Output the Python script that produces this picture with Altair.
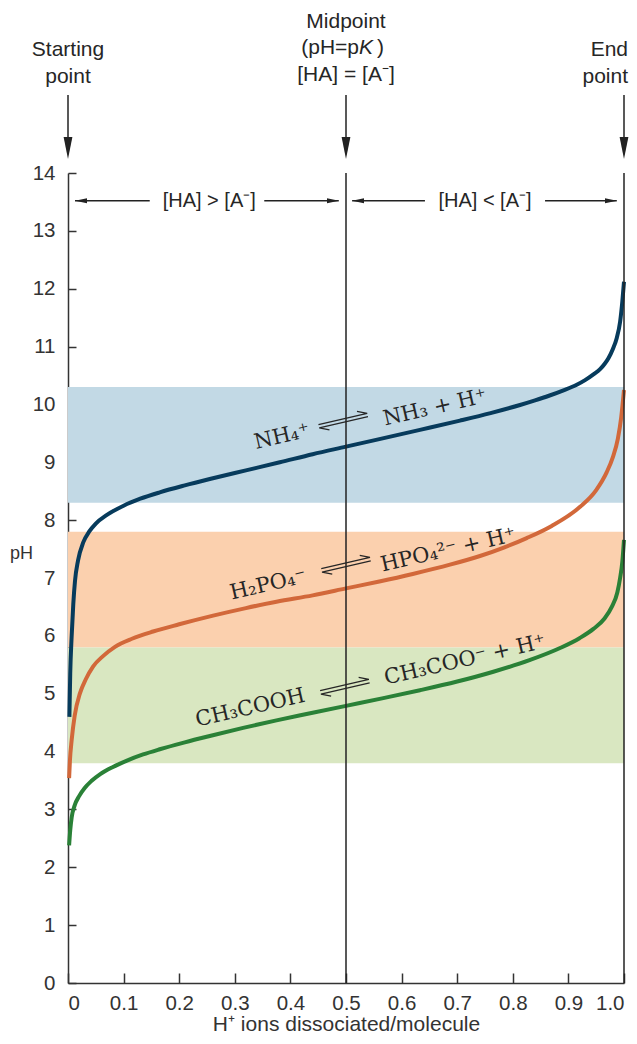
import altair as alt
import pandas as pd

# ---------------- data ----------------
nh4_x = [0.0025, 0.004, 0.0066, 0.0095, 0.0126, 0.018, 0.0276, 0.038, 0.05, 0.07, 0.1, 0.13, 0.165,
         0.21, 0.255, 0.32, 0.381, 0.44, 0.5, 0.56, 0.633, 0.705, 0.76, 0.813, 0.84, 0.865, 0.89,
         0.915, 0.93, 0.945, 0.957, 0.965, 0.972, 0.98, 0.987, 0.993, 0.997, 1.0]
nh4_ph = [4.6, 5.35, 6.0, 6.55, 6.95, 7.3, 7.62, 7.8, 7.94, 8.09, 8.25, 8.37, 8.48,
          8.6, 8.71, 8.86, 9.0, 9.14, 9.27, 9.4, 9.56, 9.72, 9.85, 9.99, 10.07, 10.15, 10.24,
          10.34, 10.42, 10.52, 10.61, 10.7, 10.8, 10.96, 11.15, 11.43, 11.78, 12.12]

h2po4_x = [0.002, 0.0035, 0.0066, 0.012, 0.0216, 0.032, 0.045, 0.063, 0.0845, 0.115, 0.153, 0.2,
           0.261, 0.32, 0.375, 0.44, 0.5, 0.56, 0.62, 0.687, 0.741, 0.785, 0.825, 0.87, 0.921,
           0.95, 0.969, 0.98, 0.989, 0.995, 1.0]
h2po4_ph = [3.54, 3.85, 4.2, 4.62, 5.01, 5.25, 5.47, 5.65, 5.81, 5.95, 6.075, 6.2,
            6.35, 6.48, 6.59, 6.7, 6.82, 6.94, 7.07, 7.23, 7.38, 7.53, 7.69, 7.9, 8.23,
            8.52, 8.83, 9.09, 9.41, 9.78, 10.25]

ac_x = [0.002, 0.004, 0.0066, 0.012, 0.02, 0.03, 0.042, 0.058, 0.08, 0.105, 0.135, 0.165, 0.21,
        0.255, 0.315, 0.375, 0.44, 0.5, 0.565, 0.633, 0.7, 0.765, 0.83, 0.885, 0.92, 0.945,
        0.965, 0.978, 0.988, 0.993, 0.997, 1.0]
ac_ph = [2.38, 2.64, 2.86, 3.07, 3.23, 3.37, 3.49, 3.61, 3.73, 3.84, 3.95, 4.04, 4.16,
         4.27, 4.41, 4.54, 4.67, 4.79, 4.92, 5.06, 5.21, 5.38, 5.58, 5.79, 5.96, 6.12,
         6.3, 6.5, 6.75, 7.0, 7.28, 7.66]

curve_names = ["NH4", "H2PO4", "CH3COOH"]
curve_colors = ["#073b5c", "#d2683a", "#2a8137"]

band_low = [8.3, 5.8, 3.8]
band_high = [10.3, 7.8, 5.8]
band_colors = ["#c2d9e5", "#fbd0ae", "#d9e7c1"]

x_ticks = [0, 0.1, 0.2, 0.3, 0.4, 0.5, 0.6, 0.7, 0.8, 0.9, 1.0]
y_ticks = list(range(0, 15))

# reference lines (midpoint, end point)
vline_x = [0.5, 1.0]

# top arrows
arrow_x = [0.0, 0.5, 1.0]
arrow_top = 15.35
arrow_head_y = 14.43

top_text = ["Starting", "point", "Midpoint", "[HA] = [A\u207b]"]
top_x = [0.0, 0.0, 0.5, 0.5]
top_y = [16.12, 15.66, 16.61, 15.69]
pk_y = 16.16
end_text = ["End", "point"]
end_y = [16.12, 15.66]

# horizontal double-arrows
harrow_y = 13.52
hseg_x1 = [0.0126, 0.353, 0.511, 0.858]
hseg_x2 = [0.147, 0.487, 0.642, 0.987]
hhead_x = [0.0234, 0.4766, 0.5216, 0.9766]
hhead_dir = ["left", "right", "left", "right"]
hlabel_text = ["[HA] > [A\u207b]", "[HA] < [A\u207b]"]
hlabel_x = [0.254, 0.75]

# equilibrium labels
eq_text = ["NH\u2084\u207a", "NH\u2083 + H\u207a",
           "H\u2082PO\u2084\u207b", "HPO\u2084\u00b2\u207b + H\u207a",
           "CH\u2083COOH", "CH\u2083COO\u207b + H\u207a"]
eq_x = [0.385, 0.66, 0.36, 0.684, 0.328, 0.714]
eq_y = [9.44, 9.94, 6.88, 7.48, 4.75, 5.58]
eqarrow_x = [0.495, 0.5, 0.498]
eqarrow_y = [9.72, 7.23, 5.12]

# ---------------- tables ----------------
curves = pd.concat([
    pd.DataFrame({"x": nh4_x, "ph": nh4_ph, "acid": "NH4"}),
    pd.DataFrame({"x": h2po4_x, "ph": h2po4_ph, "acid": "H2PO4"}),
    pd.DataFrame({"x": ac_x, "ph": ac_ph, "acid": "CH3COOH"}),
], ignore_index=True)

bands = pd.DataFrame({"acid": curve_names, "lo": band_low, "hi": band_high,
                      "x1": [0.0] * 3, "x2": [1.0] * 3, "col": band_colors})
vlines = pd.DataFrame({"x": vline_x, "y1": [0] * 2, "y2": [14] * 2})
arrows = pd.DataFrame({"x": arrow_x, "y1": [arrow_head_y] * 3, "y2": [arrow_top] * 3})
heads = pd.DataFrame({"x": arrow_x, "y": [arrow_head_y] * 3})
toplab = pd.DataFrame({"t": top_text, "x": top_x, "y": top_y})
endlab = pd.DataFrame({"t": end_text, "x": [1.0] * 2, "y": end_y})
hsegs = pd.DataFrame({"x1": hseg_x1, "x2": hseg_x2, "y": [harrow_y] * 4})
hheads = pd.DataFrame({"x": hhead_x, "y": [harrow_y] * 4, "d": hhead_dir})
hlabels = pd.DataFrame({"t": hlabel_text, "x": hlabel_x, "y": [harrow_y] * 2})
eqs = pd.DataFrame({"t": eq_text, "x": eq_x, "y": eq_y})
eqarrows = pd.DataFrame({"x": eqarrow_x, "y": eqarrow_y})

W, H = 556, 810
SANS = "Liberation Sans, Arial, sans-serif"
SERIF = "DejaVu Serif, serif"
INK = "#262626"

xs = alt.Scale(domain=[0, 1], nice=False)
ys = alt.Scale(domain=[0, 14], nice=False)

x_axis_main = alt.Axis(values=x_ticks, labelExpr="datum.value == 0 ? '0' : format(datum.value, '.1f')",
                       orient="bottom", ticks=False, tickSize=0, labelPadding=10, grid=False,
                       domainColor="#333", domainWidth=1.5, labelFont=SANS, labelFontSize=20.5,
                       labelColor="#333", title="H\u207a ions dissociated/molecule",
                       titleFont=SANS, titleFontSize=21, titleFontWeight="normal", titleColor="#333",
                       titleX=W / 2, titleY=41, titleBaseline="middle", titleAlign="center")
y_axis_main = alt.Axis(values=y_ticks, orient="left", ticks=False, tickSize=0, labelPadding=13,
                       grid=False, domainColor="#333", domainWidth=1.5, labelFont=SANS,
                       labelFontSize=20.5, labelColor="#333", title="pH", titleAngle=0,
                       titleFont=SANS, titleFontSize=18, titleFontWeight="normal", titleColor="#333",
                       titleX=-47, titleY=380, titleAlign="center", titleBaseline="middle")
x_axis_ticks = alt.Axis(values=x_ticks, orient="top", offset=-H, labels=False, domain=False,
                        ticks=True, tickSize=10, tickWidth=1.5, tickColor="#333", grid=False, title=None)
y_axis_ticks = alt.Axis(values=y_ticks, orient="right", offset=-W, labels=False, domain=False,
                        ticks=True, tickSize=8, tickWidth=1.5, tickColor="#333", grid=False, title=None)

band_layer = alt.Chart(bands).mark_rect().encode(
    x=alt.X("x1:Q", scale=xs, axis=x_axis_main),
    x2="x2:Q",
    y=alt.Y("lo:Q", scale=ys, axis=y_axis_main),
    y2="hi:Q",
    color=alt.Color("col:N", scale=None, legend=None),
)

curve_layer = alt.Chart(curves).mark_line(strokeWidth=4, interpolate="monotone", strokeCap="butt").encode(
    x=alt.X("x:Q", scale=xs, axis=x_axis_ticks),
    y=alt.Y("ph:Q", scale=ys, axis=y_axis_ticks),
    color=alt.Color("acid:N", scale=alt.Scale(domain=curve_names, range=curve_colors), legend=None),
    detail="acid:N",
)

vline_layer = alt.Chart(vlines).mark_rule(color="#222", strokeWidth=1.5).encode(
    x=alt.X("x:Q", scale=xs, axis=None),
    y=alt.Y("y1:Q", scale=ys, axis=None), y2="y2:Q",
)

arrow_layer = alt.Chart(arrows).mark_rule(color="#222", strokeWidth=1.5).encode(
    x=alt.X("x:Q", scale=xs, axis=None),
    y=alt.Y("y1:Q", scale=ys, axis=None), y2="y2:Q",
)

head_layer = alt.Chart(heads).mark_point(
    shape="M-0.4,-1L0.4,-1L0,1Z", filled=True, size=484, color="#222", opacity=1, strokeWidth=0
).encode(
    x=alt.X("x:Q", scale=xs, axis=None),
    y=alt.Y("y:Q", scale=ys, axis=None),
)

top_label_layer = alt.Chart(toplab).mark_text(
    font=SANS, fontSize=21, color=INK, align="center", baseline="middle"
).encode(
    x=alt.X("x:Q", scale=xs, axis=None),
    y=alt.Y("y:Q", scale=ys, axis=None),
    text="t:N",
)

# "End point" sits at the right edge: right-aligned so it stays inside the page
end_label_layer = alt.Chart(endlab).mark_text(
    font=SANS, fontSize=21, color=INK, align="right", baseline="middle", dx=4
).encode(
    x=alt.X("x:Q", scale=xs, axis=None),
    y=alt.Y("y:Q", scale=ys, axis=None),
    text="t:N",
)

pk_df = pd.DataFrame({"x": [0.5], "y": [pk_y]})
pk1 = alt.Chart(pk_df).mark_text(font=SANS, fontSize=21, color=INK, align="right",
                                 baseline="middle", dx=13, text="(pH=p").encode(
    x=alt.X("x:Q", scale=xs, axis=None), y=alt.Y("y:Q", scale=ys, axis=None))
pk2 = alt.Chart(pk_df).mark_text(font=SANS, fontSize=21, fontStyle="italic", color=INK,
                                 align="left", baseline="middle", dx=13, text="K").encode(
    x=alt.X("x:Q", scale=xs, axis=None), y=alt.Y("y:Q", scale=ys, axis=None))
pk3 = alt.Chart(pk_df).mark_text(font=SANS, fontSize=21, color=INK, align="left",
                                 baseline="middle", dx=31, text=")").encode(
    x=alt.X("x:Q", scale=xs, axis=None), y=alt.Y("y:Q", scale=ys, axis=None))

hseg_layer = alt.Chart(hsegs).mark_rule(color="#222", strokeWidth=1.3).encode(
    x=alt.X("x1:Q", scale=xs, axis=None), x2="x2:Q",
    y=alt.Y("y:Q", scale=ys, axis=None),
)

hhead_layer = alt.Chart(hheads).mark_point(filled=True, size=144, color="#222", opacity=1,
                                           strokeWidth=0).encode(
    x=alt.X("x:Q", scale=xs, axis=None),
    y=alt.Y("y:Q", scale=ys, axis=None),
    shape=alt.Shape("d:N", scale=alt.Scale(domain=["left", "right"],
                                           range=["M1,-0.4L1,0.4L-1,0Z", "M-1,-0.4L-1,0.4L1,0Z"]),
                    legend=None),
)

hlabel_layer = alt.Chart(hlabels).mark_text(font=SANS, fontSize=20, color=INK, align="center",
                                            baseline="middle").encode(
    x=alt.X("x:Q", scale=xs, axis=None),
    y=alt.Y("y:Q", scale=ys, axis=None),
    text="t:N",
)

eq_species = alt.Chart(eqs).mark_text(
    font=SERIF, fontSize=21, color=INK, align="center", baseline="middle", angle=347
).encode(
    x=alt.X("x:Q", scale=xs, axis=None),
    y=alt.Y("y:Q", scale=ys, axis=None),
    text="t:N",
)

# equilibrium harpoons (right-pointing on top, left-pointing below)
eq_harpoons = alt.Chart(eqarrows).mark_point(
    shape="M-1,-0.07L1,-0.07L0.62,-0.24M1,0.07L-1,0.07L-0.62,0.24",
    filled=False, size=2500, color=INK, strokeWidth=1.3, opacity=1, angle=347
).encode(
    x=alt.X("x:Q", scale=xs, axis=None),
    y=alt.Y("y:Q", scale=ys, axis=None),
)

chart = alt.layer(
    band_layer, curve_layer, vline_layer, arrow_layer, head_layer, top_label_layer,
    end_label_layer, pk1, pk2, pk3, hseg_layer, hhead_layer, hlabel_layer, eq_species, eq_harpoons,
).properties(
    width=W, height=H, autosize="none",
    padding={"left": 60, "top": 165, "right": 5, "bottom": 53},
).configure_view(stroke=None)

chart.save("out.html", embed_options={"renderer": "svg", "actions": False})
